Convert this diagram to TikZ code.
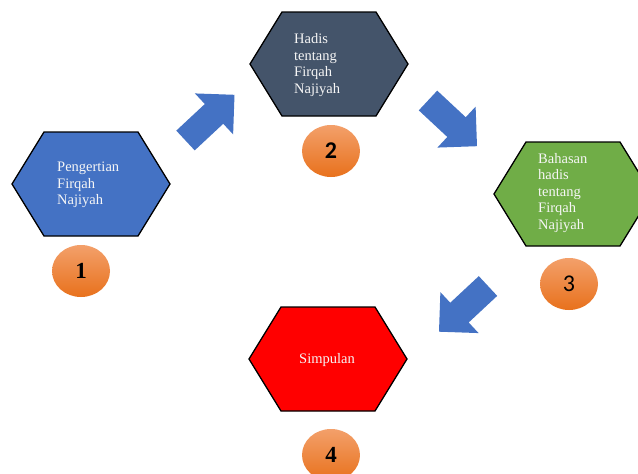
\documentclass[tikz,border=0pt]{standalone}
\usepackage{fontspec}
\setmainfont{Liberation Serif}
\newfontfamily\carlito{Carlito}
\usetikzlibrary{shapes.geometric}
\definecolor{hexblue}{HTML}{4472C4}
\definecolor{hexslate}{HTML}{44546A}
\definecolor{hexgreen}{HTML}{70AD47}
\definecolor{hexred}{HTML}{FF0000}
\definecolor{arrowblue}{HTML}{4472C4}
\definecolor{orgtop}{HTML}{F3A06A}
\definecolor{orgbot}{HTML}{E8711C}
\definecolor{txtwhite}{HTML}{F6F6F6}
\tikzset{
  hexline/.style={draw=black, line width=1.3pt, line join=miter},
  hextext/.style={text=txtwhite, align=left, inner sep=0pt,
    font=\fontsize{14.5}{16.5}\selectfont},
  badge/.style={ellipse, minimum width=58pt, minimum height=52pt, inner sep=0pt,
    top color=orgtop, bottom color=orgbot, draw=none, text=black},
  blockarrow/.style={fill=arrowblue, draw=none}
}
% hexagon: center x, center y, fill colour
\newcommand{\myhex}[3]{%
  \path[hexline, fill=#3] ({#1-79},#2) -- ({#1-47},{#2-52}) -- ({#1+47},{#2-52})
    -- ({#1+79},#2) -- ({#1+47},{#2+52}) -- ({#1-47},{#2+52}) -- cycle;}
% block arrow: tail x, tail y, angle
\newcommand{\myarrow}[3]{%
  \begin{scope}[shift={(#1,#2)}, rotate=#3]
    \path[blockarrow] (0,-13.5) -- (39,-13.5) -- (39,-28) -- (67,0)
      -- (39,28) -- (39,13.5) -- (0,13.5) -- cycle;
  \end{scope}}
\begin{document}
\begin{tikzpicture}[x=1pt,y=-1pt]
\useasboundingbox (0,0) rectangle (638,474);
\fill[white] (0,0) rectangle (638,474);

% hexagons
\myhex{91}{184}{hexblue}
\myhex{329}{64}{hexslate}
\myhex{573}{194}{hexgreen}
\myhex{328}{359}{hexred}

% texts
\node[hextext, anchor=west] (t1) at (57,185) {Pengertian\\Firqah\\Najiyah};
\node[hextext, anchor=west] (t2) at (294,65) {Hadis\\tentang\\Firqah\\Najiyah};
\node[hextext, anchor=west] (t3) at (538,193) {Bahasan\\hadis\\tentang\\Firqah\\Najiyah};
\node[hextext, anchor=center] (t4) at (327,360) {Simpulan};

% badges
\node[badge, font=\fontsize{23}{23}\selectfont\bfseries] (n1) at (81,271) {1};
\node[badge, font=\carlito\fontsize{24}{24}\selectfont\bfseries] (n2) at (331,151) {2};
\node[badge, font=\carlito\fontsize{24}{24}\selectfont] (n3) at (569,284) {3};
\node[badge, font=\fontsize{23}{23}\selectfont\bfseries] (n4) at (331,455) {4};

% arrows
\myarrow{185.5}{140.5}{43}
\myarrow{428}{100.5}{-43}
\myarrow{488}{286}{223}
\end{tikzpicture}
\end{document}
